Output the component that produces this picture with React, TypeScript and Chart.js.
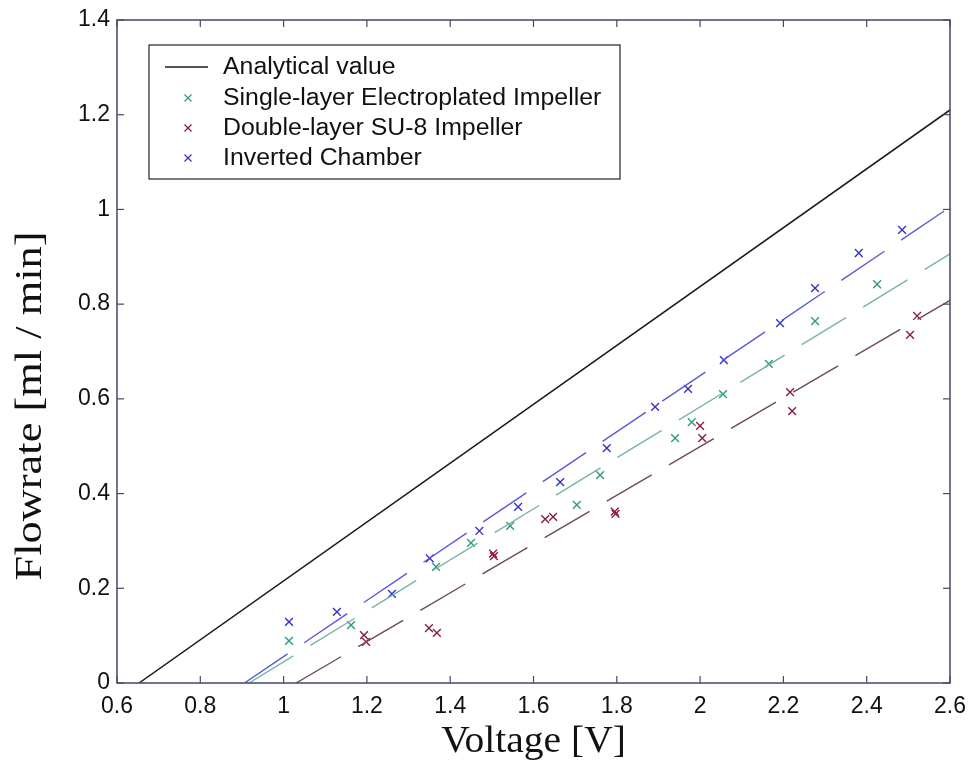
import React, { useEffect, useRef } from "react";
import { Chart, registerables } from "chart.js";

Chart.register(...registerables);

// ---- Data ----
const xTicks = [0.6, 0.8, 1.0, 1.2, 1.4, 1.6, 1.8, 2.0, 2.2, 2.4, 2.6];
const yTicks = [0, 0.2, 0.4, 0.6, 0.8, 1.0, 1.2, 1.4];

const singleV = [1.013, 1.162, 1.366, 1.45, 1.544, 1.704, 1.76, 1.94, 1.98, 2.055, 2.165, 2.276, 2.425];
const singleF = [0.089, 0.122, 0.245, 0.296, 0.332, 0.376, 0.439, 0.517, 0.551, 0.61, 0.674, 0.764, 0.842];

const doubleV = [1.193, 1.198, 1.349, 1.368, 1.503, 1.505, 1.628, 1.647, 1.795, 1.797, 2.0, 2.005, 2.216, 2.221, 2.504, 2.521];
const doubleF = [0.101, 0.087, 0.116, 0.106, 0.273, 0.268, 0.346, 0.351, 0.362, 0.357, 0.543, 0.517, 0.614, 0.574, 0.735, 0.775];

const invertedV = [1.013, 1.128, 1.26, 1.351, 1.47, 1.563, 1.664, 1.776, 1.892, 1.971, 2.057, 2.192, 2.276, 2.381, 2.485];
const invertedF = [0.129, 0.15, 0.188, 0.263, 0.321, 0.372, 0.424, 0.496, 0.583, 0.621, 0.682, 0.76, 0.834, 0.908, 0.957];

const analyticalV = [0.653, 2.6];
const analyticalF = [0, 1.21];
const singleFitV = [0.917, 2.6];
const singleFitF = [0, 0.906];
const doubleFitV = [1.03, 2.6];
const doubleFitF = [0, 0.808];
const invertedFitV = [0.906, 2.6];
const invertedFitF = [0, 1.005];

const legendLabels = [
  "Analytical value",
  "Single-layer Electroplated Impeller",
  "Double-layer SU-8 Impeller",
  "Inverted Chamber",
];
const xTitle = "Voltage [V]";
const yTitle = "Flowrate [ml / min]";

// ---- Styles ----
const C_ANALYTIC = "#1a1a1a";
const C_GREEN_M = "#2f9c7c";
const C_GREEN_L = "#79b4a2";
const C_RED_M = "#8a1f3a";
const C_RED_L = "#6e4b52";
const C_BLUE_M = "#3434c4";
const C_BLUE_L = "#5a5ad6";
const FRAME = "#46466a";
const SANS = "'Liberation Sans', Arial, sans-serif";
const SERIF = "'Liberation Serif', 'Times New Roman', serif";

const pts = (xs: number[], ys: number[]) => xs.map((x, i) => ({ x, y: ys[i] }));

const decorPlugin = {
  id: "decor",
  afterDraw(chart: any) {
    const { ctx, chartArea, scales } = chart;
    const { left, right, top, bottom } = chartArea;
    const xs = scales.x;
    const ys = scales.y;
    ctx.save();
    // frame
    ctx.strokeStyle = FRAME;
    ctx.lineWidth = 1.5;
    ctx.strokeRect(left, top, right - left, bottom - top);
    // inward ticks
    ctx.lineWidth = 1.2;
    const line = (a: number, b: number, c: number, d: number) => {
      ctx.beginPath();
      ctx.moveTo(a, b);
      ctx.lineTo(c, d);
      ctx.stroke();
    };
    xTicks.forEach((v) => {
      const px = xs.getPixelForValue(v);
      line(px, bottom, px, bottom - 7);
      line(px, top, px, top + 7);
    });
    yTicks.forEach((v) => {
      const py = ys.getPixelForValue(v);
      line(left, py, left + 7, py);
      line(right, py, right - 7, py);
    });

    // axis titles
    ctx.fillStyle = "#111";
    ctx.font = `38px ${SERIF}`;
    ctx.textAlign = "center";
    ctx.textBaseline = "middle";
    ctx.save();
    ctx.translate((left + right) / 2, 742);
    ctx.scale(1.04, 1);
    ctx.fillText(xTitle, 0, 0);
    ctx.restore();
    ctx.save();
    ctx.translate(31, 406);
    ctx.rotate(-Math.PI / 2);
    ctx.scale(1.2, 1);
    ctx.font = `37px ${SERIF}`;
    ctx.fillText(yTitle, 0, 0);
    ctx.restore();

    // legend
    const bx = 149, by = 45, bw = 471, bh = 134;
    ctx.fillStyle = "#fff";
    ctx.fillRect(bx, by, bw, bh);
    ctx.strokeStyle = "#333";
    ctx.lineWidth = 1.3;
    ctx.strokeRect(bx, by, bw, bh);
    const rows = [67, 98, 128, 158];
    ctx.font = `23px ${SANS}`;
    ctx.textAlign = "left";
    ctx.fillStyle = "#111";
    legendLabels.forEach((t, i) => {
      ctx.save();
      ctx.translate(223, rows[i] + 1);
      ctx.scale(1.08, 1);
      ctx.fillText(t, 0, 0);
      ctx.restore();
    });
    ctx.strokeStyle = C_ANALYTIC;
    ctx.lineWidth = 1.3;
    line(165, rows[0], 208, rows[0]);
    const cross = (cx: number, cy: number, col: string) => {
      ctx.strokeStyle = col;
      ctx.lineWidth = 1.2;
      line(cx - 3.5, cy - 3.5, cx + 3.5, cy + 3.5);
      line(cx - 3.5, cy + 3.5, cx + 3.5, cy - 3.5);
    };
    cross(188, rows[1], C_GREEN_M);
    cross(188, rows[2], C_RED_M);
    cross(188, rows[3], C_BLUE_M);
    ctx.restore();
  },
};

export default function App() {
  const ref = useRef<HTMLCanvasElement>(null);
  useEffect(() => {
    if (!ref.current) return;
    const fitLine = (data: any, color: string) => ({
      data,
      showLine: true,
      borderColor: color,
      borderWidth: 1.4,
      borderDash: [52, 20],
      pointRadius: 0,
      fill: false,
    });
    const marks = (data: any, color: string) => ({
      data,
      showLine: false,
      pointStyle: "crossRot",
      pointRadius: 5.5,
      borderColor: color,
      backgroundColor: color,
      pointBorderWidth: 1.4,
    });
    const chart = new Chart(ref.current, {
      type: "scatter",
      data: {
        datasets: [
          {
            data: pts(analyticalV, analyticalF),
            showLine: true,
            borderColor: C_ANALYTIC,
            borderWidth: 1.5,
            pointRadius: 0,
          } as any,
          fitLine(pts(invertedFitV, invertedFitF), C_BLUE_L),
          fitLine(pts(singleFitV, singleFitF), C_GREEN_L),
          fitLine(pts(doubleFitV, doubleFitF), C_RED_L),
          marks(pts(singleV, singleF), C_GREEN_M),
          marks(pts(doubleV, doubleF), C_RED_M),
          marks(pts(invertedV, invertedF), C_BLUE_M),
        ],
      },
      options: {
        animation: false,
        responsive: false,
        layout: { padding: { left: 0, top: 20, right: 19, bottom: 0 } },
        plugins: { legend: { display: false }, tooltip: { enabled: false } },
        scales: {
          x: {
            type: "linear",
            min: 0.6,
            max: 2.6,
            grid: { display: false, drawTicks: false },
            border: { display: false },
            afterBuildTicks: (s: any) => {
              s.ticks = xTicks.map((v) => ({ value: v }));
            },
            afterFit: (s: any) => {
              s.height = 87;
              s.paddingLeft = 0;
              s.paddingRight = 0;
            },
            ticks: {
              padding: 10,
              maxRotation: 0,
              color: "#111",
              font: { family: SANS, size: 23 },
              callback: (v: any) => String(Number(Number(v).toFixed(1))),
            },
          },
          y: {
            type: "linear",
            min: 0,
            max: 1.4,
            grid: { display: false, drawTicks: false },
            border: { display: false },
            afterBuildTicks: (s: any) => {
              s.ticks = yTicks.map((v) => ({ value: v }));
            },
            afterFit: (s: any) => {
              s.width = 117;
              s.paddingTop = 0;
              s.paddingBottom = 0;
            },
            ticks: {
              padding: 7,
              color: "#111",
              font: { family: SANS, size: 23 },
              callback: (v: any) => String(Number(Number(v).toFixed(1))),
            },
          },
        },
      },
      plugins: [decorPlugin],
    });
    return () => chart.destroy();
  }, []);
  return (
    <canvas
      ref={ref}
      width={969}
      height={770}
      style={{ position: "fixed", left: 0, top: 0, width: 969, height: 770, background: "#fff" }}
    />
  );
}
